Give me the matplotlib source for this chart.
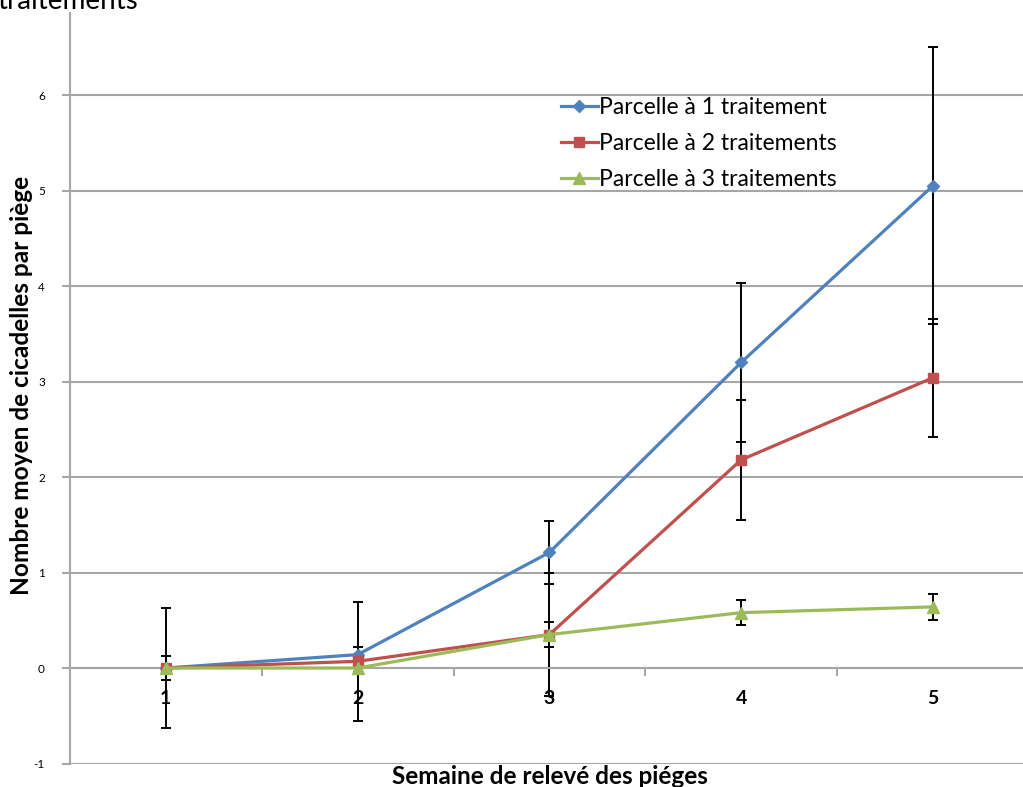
import matplotlib.pyplot as plt

plt.rcParams['font.family'] = ['Lato', 'DejaVu Sans']

# données : nombre moyen de cicadelles par piège
semaines = [1, 2, 3, 4, 5]
noms = ['Parcelle à 1 traitement', 'Parcelle à 2 traitements', 'Parcelle à 3 traitements']
moy_1 = [0.0, 0.14, 1.21, 3.20, 5.05]
moy_2 = [0.0, 0.07, 0.35, 2.18, 3.04]
moy_3 = [0.0, 0.0, 0.35, 0.58, 0.64]
err_1 = [0.63, 0.08, 0.33, 0.83, 1.45]
err_2 = [0.13, 0.62, 0.64, 0.63, 0.62]
err_3 = [0.0, 0.04, 0.13, 0.13, 0.14]

couleurs = ['#4F81BD', '#C0504D', '#9BBB59']
marqueurs = ['D', 's', '^']
tailles = [6, 7.5, 8]

W, H = 1023, 787
fig = plt.figure(figsize=(W / 100, H / 100), dpi=100)
ax = fig.add_axes([70 / W, 1 - 763.5 / H, (W - 70) / W, (763.5 - 13) / H])

grid_col = '#A6A6A6'

series = [(moy_1, err_1), (moy_2, err_2), (moy_3, err_3)]
for i, (m, e) in enumerate(series):
    ax.errorbar(semaines, m, yerr=e, fmt='none', ecolor='black', elinewidth=1.4,
                capsize=3.5, capthick=1.4, zorder=2)
for i, (m, e) in enumerate(series):
    ax.plot(semaines, m, color=couleurs[i], lw=2.3, marker=marqueurs[i],
            markersize=tailles[i], label=noms[i], zorder=3 + i)

ax.set_xlim(0.5, 1 + (W - 167) / 191.5)
ax.set_ylim(-1, 6.86)

ax.set_yticks(range(-1, 7))
ax.set_yticklabels([str(v) for v in range(-1, 7)], fontsize=8.5)
ax.grid(axis='y', color=grid_col, lw=1.5)
ax.set_axisbelow(True)

# axe horizontal qui croise à 0
ax.spines['bottom'].set_position(('data', 0))
ax.spines['bottom'].set_color(grid_col)
ax.spines['bottom'].set_linewidth(1.5)
ax.spines['left'].set_color(grid_col)
ax.spines['left'].set_linewidth(1.5)
ax.spines['top'].set_visible(False)
ax.spines['right'].set_visible(False)

ax.set_xticks(semaines)
ax.set_xticklabels([str(s) for s in semaines], fontsize=14, fontweight='bold')
ax.set_xticks([1.5, 2.5, 3.5, 4.5], minor=True)
ax.tick_params(axis='x', which='major', length=0, pad=16)
ax.tick_params(axis='x', which='minor', length=6, width=1.5, color=grid_col, direction='out')
ax.tick_params(axis='y', length=6, width=1.5, color=grid_col, pad=12)

fig.text(22 / W, 1 - 385 / H, 'Nombre moyen de cicadelles par piège', rotation=90,
         fontsize=17.6, fontweight='bold', ha='center', va='center')
fig.text(550 / W, 1 - 776 / H, 'Semaine de relevé des piéges',
         fontsize=17.5, fontweight='bold', ha='center', va='center')
fig.text(-3 / W, 1 - 1 / H, 'traitements', fontsize=20, ha='left', va='center')

ax.legend(loc='upper left', bbox_to_anchor=(561 / W, 1 - 97 / H), bbox_transform=fig.transFigure,
          frameon=False, fontsize=16.5, handlelength=1.6, handletextpad=0.05,
          labelspacing=0.66, borderpad=0, borderaxespad=0)

fig.savefig('out.png', dpi=100)
